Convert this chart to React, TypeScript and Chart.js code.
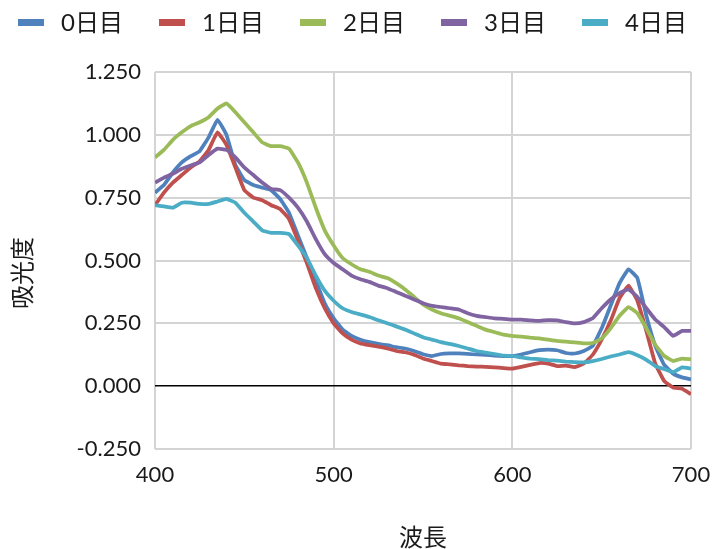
import { useEffect, useRef } from "react";
import { Chart, registerables } from "chart.js";

Chart.register(...registerables);

// Wavelength (nm) sampled every 5 nm
const wavelengths = [
  400, 405, 410, 415, 420, 425, 430, 435, 440, 445, 450, 455, 460, 465, 470, 475,
  480, 485, 490, 495, 500, 505, 510, 515, 520, 525, 530, 535, 540, 545, 550, 555,
  560, 565, 570, 575, 580, 585, 590, 595, 600, 605, 610, 615, 620, 625, 630, 635,
  640, 645, 650, 655, 660, 665, 670, 675, 680, 685, 690, 695, 700,
];

// Absorbance per day
const day0 = [
  0.77, 0.8, 0.85, 0.89, 0.915, 0.935, 0.99, 1.06, 1.0, 0.88, 0.82, 0.8, 0.79, 0.78, 0.745, 0.69,
  0.6, 0.51, 0.42, 0.33, 0.27, 0.225, 0.2, 0.185, 0.175, 0.168, 0.163, 0.155, 0.15, 0.14, 0.127, 0.12,
  0.128, 0.13, 0.13, 0.128, 0.126, 0.124, 0.122, 0.12, 0.12, 0.126, 0.135, 0.143, 0.145, 0.143, 0.132, 0.13,
  0.14, 0.16, 0.23, 0.32, 0.41, 0.465, 0.43, 0.28, 0.16, 0.085, 0.05, 0.035, 0.027,
];
const day1 = [
  0.72, 0.77, 0.81, 0.84, 0.87, 0.895, 0.94, 1.01, 0.96, 0.87, 0.78, 0.75, 0.74, 0.72, 0.705, 0.665,
  0.58, 0.49, 0.39, 0.31, 0.25, 0.21, 0.185, 0.17, 0.163, 0.157, 0.15, 0.14, 0.135, 0.125, 0.11, 0.1,
  0.09, 0.087, 0.083, 0.08, 0.078, 0.077, 0.075, 0.072, 0.07, 0.077, 0.085, 0.092, 0.09, 0.08, 0.082, 0.076,
  0.09, 0.125, 0.185, 0.26, 0.35, 0.4, 0.34, 0.22, 0.09, 0.02, -0.005, -0.01, -0.032,
];
const day2 = [
  0.91, 0.94, 0.98, 1.01, 1.035, 1.05, 1.07, 1.105, 1.125, 1.09, 1.05, 1.01, 0.97, 0.955, 0.955, 0.945,
  0.89, 0.81, 0.71, 0.62, 0.56, 0.51, 0.485, 0.465, 0.455, 0.44, 0.43, 0.41, 0.385, 0.355, 0.325, 0.305,
  0.29, 0.28, 0.27, 0.255, 0.24, 0.225, 0.215, 0.205, 0.2, 0.197, 0.193, 0.19, 0.185, 0.18, 0.177, 0.174,
  0.17, 0.172, 0.19, 0.23, 0.28, 0.315, 0.29, 0.23, 0.165, 0.12, 0.1, 0.11, 0.107,
];
const day3 = [
  0.81, 0.83, 0.845, 0.865, 0.878, 0.89, 0.92, 0.945, 0.94, 0.91, 0.87, 0.84, 0.81, 0.785, 0.78, 0.75,
  0.71, 0.655, 0.585, 0.525, 0.49, 0.465, 0.44, 0.425, 0.415, 0.4, 0.39, 0.375, 0.36, 0.345, 0.33, 0.32,
  0.315, 0.31, 0.305, 0.29, 0.28, 0.275, 0.27, 0.268, 0.265, 0.265, 0.262, 0.26, 0.263, 0.262, 0.255, 0.25,
  0.255, 0.27, 0.31, 0.345, 0.37, 0.385, 0.355, 0.31, 0.265, 0.235, 0.2, 0.22, 0.22,
];
const day4 = [
  0.72, 0.715, 0.71, 0.73, 0.73, 0.725, 0.725, 0.735, 0.745, 0.73, 0.69, 0.655, 0.62, 0.61, 0.61, 0.605,
  0.56, 0.51, 0.44, 0.38, 0.34, 0.31, 0.295, 0.285, 0.275, 0.262, 0.25, 0.238, 0.225, 0.21, 0.195, 0.185,
  0.175, 0.168, 0.16, 0.15, 0.14, 0.134, 0.128, 0.122, 0.12, 0.114, 0.11, 0.108, 0.104, 0.102, 0.098, 0.096,
  0.095, 0.1, 0.108, 0.118, 0.126, 0.135, 0.123, 0.105, 0.08, 0.068, 0.056, 0.075, 0.07,
];

const seriesLabels = ["0日目", "1日目", "2日目", "3日目", "4日目"];
const seriesValues = [day0, day1, day2, day3, day4];
const seriesColors = ["#4F81BD", "#C0504D", "#9BBB59", "#8064A2", "#4BACC6"];

const xAxisTitle = "波長";
const yAxisTitle = "吸光度";

const FONT = "Lato, 'Noto Sans CJK JP', sans-serif";
const TEXT_COLOR = "#1a1a1a";
const GRID_COLOR = "#d4d4d4";

// Legend row across the top and the rotated y-axis title
const decorations = {
  id: "decorations",
  afterDraw(chart: Chart) {
    const ctx = chart.ctx;
    ctx.save();
    ctx.font = `24px ${FONT}`;
    ctx.fillStyle = TEXT_COLOR;
    ctx.textBaseline = "middle";
    ctx.textAlign = "left";
    chart.data.datasets.forEach((ds: any, i: number) => {
      const x0 = 18 + i * 141;
      ctx.fillStyle = ds.borderColor;
      ctx.fillRect(x0, 19, 26, 7);
      ctx.fillStyle = TEXT_COLOR;
      ctx.fillText(ds.label, x0 + 43, 23);
    });

    ctx.translate(23, 273);
    ctx.rotate(-Math.PI / 2);
    ctx.textAlign = "center";
    ctx.fillText(yAxisTitle, 0, 0);
    ctx.restore();
  },
};

export default function App() {
  const canvasRef = useRef<HTMLCanvasElement | null>(null);

  useEffect(() => {
    const canvas = canvasRef.current;
    if (!canvas) return;
    const datasets = seriesLabels.map((label, i) => ({
      label,
      data: wavelengths.map((w, j) => ({ x: w, y: seriesValues[i][j] })),
      borderColor: seriesColors[i],
      backgroundColor: seriesColors[i],
      borderWidth: 3.75,
      pointRadius: 0,
      tension: 0.1,
      fill: false,
      order: seriesLabels.length - i,
    }));

    const chart = new Chart(canvas, {
      type: "line",
      data: { datasets },
      options: {
        responsive: false,
        animation: false,
        layout: { padding: { top: 72, right: 22, bottom: 0, left: 0 } },
        plugins: {
          legend: { display: false },
          tooltip: { enabled: false },
        },
        scales: {
          x: {
            type: "linear",
            min: 400,
            max: 700,
            ticks: {
              stepSize: 100,
              padding: 13,
              color: TEXT_COLOR,
              font: { family: FONT, size: 22 },
              callback: (v: any) => String(v),
            },
            grid: { color: GRID_COLOR, lineWidth: 2, drawTicks: false },
            border: { display: false },
            title: {
              display: true,
              text: xAxisTitle,
              color: TEXT_COLOR,
              font: { family: FONT, size: 24 },
              padding: { top: 0, bottom: -4 },
            },
            afterFit: (s: any) => {
              s.height = 100;
              s.paddingLeft = 0;
              s.paddingRight = 0;
            },
          },
          y: {
            min: -0.25,
            max: 1.25,
            ticks: {
              stepSize: 0.25,
              padding: 14,
              color: TEXT_COLOR,
              font: { family: FONT, size: 22 },
              callback: (v: any) => Number(v).toFixed(3),
            },
            grid: {
              color: (c: any) => (Math.abs(c.tick.value) < 1e-9 ? "#000000" : GRID_COLOR),
              lineWidth: (c: any) => (Math.abs(c.tick.value) < 1e-9 ? 1.5 : 2),
              drawTicks: false,
            },
            border: { display: false },
            afterFit: (s: any) => {
              s.width = 155;
            },
          },
        },
      },
      plugins: [decorations],
    });
    return () => chart.destroy();
  }, []);

  return (
    <div style={{ position: "fixed", left: 0, top: 0, width: 713, height: 549, background: "#ffffff" }}>
      <canvas ref={canvasRef} width={713} height={549} style={{ display: "block" }} />
    </div>
  );
}
